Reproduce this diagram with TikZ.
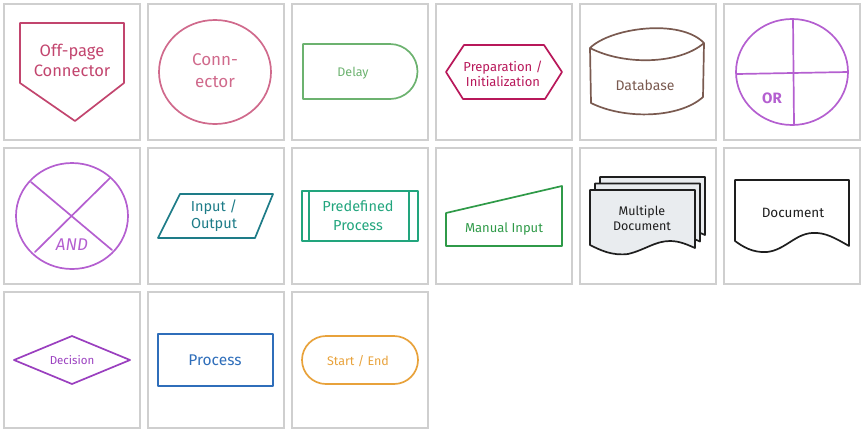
\documentclass[tikz,border=0pt]{standalone}
\usepackage{fontspec}
\setmainfont{Fira Sans}
\definecolor{cellgray}{HTML}{CFCFCF}
\definecolor{pinkA}{HTML}{C2456E}
\definecolor{pinkB}{HTML}{D06A8C}
\definecolor{greenDelay}{HTML}{6CB26F}
\definecolor{crimson}{HTML}{B8185A}
\definecolor{brownDb}{HTML}{7A5A50}
\definecolor{purpleL}{HTML}{B45FD0}
\definecolor{tealIO}{HTML}{1E7C88}
\definecolor{tealPP}{HTML}{22A57D}
\definecolor{greenMI}{HTML}{2F9A48}
\definecolor{docfill}{HTML}{E9ECEF}
\definecolor{purpleD}{HTML}{9A3FBF}
\definecolor{blueP}{HTML}{2F6EBA}
\definecolor{orangeSE}{HTML}{E8A23B}
\definecolor{inkblack}{HTML}{1E1E1E}
\newcommand{\fsz}[1]{\fontsize{#1}{1.2\dimexpr#1pt\relax}\selectfont}
\begin{document}
\begin{tikzpicture}[x=1pt,y=-1pt,
  cell/.style={draw=cellgray,line width=1.5pt},
  shapeline/.style={line width=1.7pt,line join=round,line cap=round},
  lbl/.style={align=center,inner sep=0pt}]
\useasboundingbox (0,0) rectangle (864,432);
% cells
\foreach \r in {0,1,2}{\foreach \c in {0,...,5}{
  \pgfmathtruncatemacro{\idx}{\r*6+\c}
  \ifnum\idx<15
    \draw[cell] (4+144*\c,4+144*\r) rectangle ++(136,136);
  \fi}}
% 1 off-page connector
\draw[shapeline,draw=pinkA] (20,23) -- (124,23) -- (124,83) -- (75,121) -- (20,83) -- cycle;
\node[lbl,text=pinkA,font=\fontsize{16.5}{20}\selectfont] (offpage) at (72,60) {Off-page\\Connector};
% 2 connector
\draw[shapeline,draw=pinkB] (215,72) ellipse [x radius=56,y radius=52];
\node[lbl,text=pinkB,font=\fontsize{17}{22}\selectfont] (conn) at (215,71) {Conn-\\ector};
% 3 delay
\draw[shapeline,draw=greenDelay] (303,44) -- (390,44) arc[start angle=-90,end angle=90,radius=27.5] -- (303,99) -- cycle;
\node[lbl,text=greenDelay,font=\fontsize{12.5}{15}\selectfont] (delay) at (353,73) {Delay};
% 4 preparation
\draw[shapeline,draw=crimson] (446,72) -- (464,45) -- (544,45) -- (562,72) -- (545,99) -- (463,99) -- cycle;
\node[lbl,text=crimson,font=\fontsize{13}{15.5}\selectfont] (prep) at (503,74) {Preparation /\\Initialization};
% 5 database
\draw[shapeline,draw=brownDb] (590,48) .. controls (610,28) and (680,18) .. (704,43)
  (590,48) .. controls (625,66) and (680,64) .. (704,43)
  (590,48) -- (591,103) .. controls (625,120) and (680,118) .. (703,97) -- (704,43);
\node[lbl,text=brownDb,font=\fontsize{14}{16}\selectfont] (db) at (645,85) {Database};
% 6 OR
\draw[shapeline,draw=purpleL] (792,72) ellipse [x radius=56,y radius=53];
\draw[shapeline,draw=purpleL] (737,74) -- (848,72) (793,19) -- (794,125);
\node[lbl,text=purpleL,font=\fontsize{15}{17}\selectfont\bfseries] (or) at (772,98) {OR};
% 7 AND
\draw[shapeline,draw=purpleL] (72,216) ellipse [x radius=56,y radius=53];
\draw[shapeline,draw=purpleL] (31,182) -- (112,250) (110,178) -- (35,252);
\node[lbl,text=purpleL,font=\fontsize{17}{19}\selectfont\itshape] (and) at (72,245) {AND};
% 8 input/output
\draw[shapeline,draw=tealIO] (180,194) -- (273,194) -- (255,238) -- (158,238) -- cycle;
\node[lbl,text=tealIO,font=\fontsize{14.5}{17}\selectfont] (io) at (214,216) {Input /\\Output};
% 9 predefined process
\draw[shapeline,draw=tealPP] (302,191) rectangle (418,241) (309,191) -- (309,241) (409,191) -- (409,241);
\node[lbl,text=tealPP,font=\fontsize{14.5}{19}\selectfont] (pp) at (358,216) {Predefined\\Process};
% 10 manual input
\draw[shapeline,draw=greenMI] (446,213) -- (562,186) -- (562,246) -- (446,246) -- cycle;
\node[lbl,text=greenMI,font=\fontsize{13}{15}\selectfont] (mi) at (504,229) {Manual Input};
% 11 multiple document
\foreach \s in {2,1,0}{
\draw[shapeline,draw=inkblack,fill=docfill,shift={(5*\s,-6.5*\s)}] (590,190) -- (695,190) -- (695,248)
  .. controls (688,245) and (680,241) .. (670,241)
  .. controls (655,241) and (645,250) .. (628,254)
  .. controls (612,256) and (600,250) .. (590,245) -- cycle;}
\node[lbl,text=inkblack,font=\fontsize{12.5}{15}\selectfont] (md) at (642,218) {Multiple\\Document};
% 12 document
\draw[shapeline,draw=inkblack] (735,180) -- (849,180) -- (849,246)
  .. controls (835,238) and (825,232) .. (812,233)
  .. controls (795,234) and (785,250) .. (767,252)
  .. controls (752,253) and (742,246) .. (735,241) -- cycle;
\node[lbl,text=inkblack,font=\fontsize{13.5}{16}\selectfont] (doc) at (793,213) {Document};
% 13 decision
\draw[shapeline,draw=purpleD] (14,360) -- (72,336) -- (130,360) -- (72,384) -- cycle;
\node[lbl,text=purpleD,font=\fontsize{11.5}{14}\selectfont] (dec) at (72,360) {Decision};
% 14 process
\draw[shapeline,draw=blueP] (158,334) rectangle (273,386);
\node[lbl,text=blueP,font=\fontsize{15.5}{18}\selectfont] (proc) at (215,360) {Process};
% 15 start/end
\draw[shapeline,draw=orangeSE] (326,336) -- (394,336) arc[start angle=-90,end angle=90,radius=24] -- (326,384) arc[start angle=90,end angle=270,radius=24] -- cycle;
\node[lbl,text=orangeSE,font=\fontsize{12.5}{15}\selectfont] (se) at (358,361) {Start / End};
\end{tikzpicture}
\end{document}
